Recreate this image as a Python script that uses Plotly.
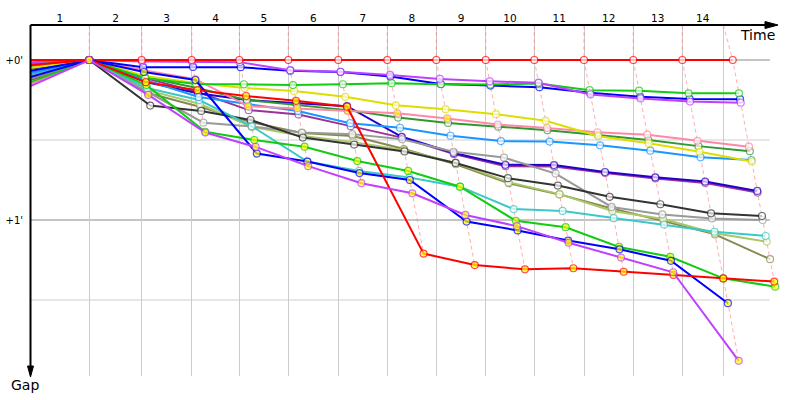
import plotly.graph_objects as go

# ---------------- data ----------------
# cumulative race time of the leader at each lap end (seconds), index 0 = start
leader_time = [0, 117.6, 222.4, 322.4, 417.6, 515.6, 615.6, 713.6, 811.6, 910.4,
               1007.6, 1107.0, 1205.6, 1303.6, 1404.4]
# vertical lap marks on the time axis
lap_grid = [117.6, 222.4, 322.4, 417.6, 515.6, 615.6, 713.6, 811.6, 910.4,
            1007.6, 1107.0, 1205.6, 1303.6, 1385.6]
lap_labels = ["1", "2", "3", "4", "5", "6", "7", "8", "9", "10", "11", "12", "13", "14"]
gap_ticks = [0, 60]
gap_tick_labels = ["+0'", "+1'"]
gap_minor = [30, 90]

# gap to leader (seconds); index 0 = start, then lap 1..14
gap_red = [0, 0, 0, 0, 0, 0, 0, 0, 0, 0, 0, 0, 0, 0, 0]
gap_violet = [0.8, 0, 0.6, 0.6, 0.8, 3.8, 4.4, 5.6, 7.1, 8.0, 8.5, 12.9, 14.4, 15.6, 16.0]
gap_blue = [4.1, 0, 2.7, 2.6, 2.7, 4.0, 4.5, 6.2, 9.0, 9.6, 10.2, 12.3, 13.8, 14.6, 14.7]
gap_green = [1.5, 0, 6.8, 9.0, 9.1, 9.4, 9.1, 8.7, 9.1, 9.2, 8.8, 11.3, 11.5, 12.5, 12.5]
gap_yellow = [3.0, 0, 6.0, 8.6, 10.5, 11.6, 13.8, 17.0, 18.5, 20.3, 22.8, 28.6, 31.2, 34.4, 38.1]
gap_pink = [9.0, 0, 3.8, 7.2, 17.3, 18.1, 19.2, 20.0, 21.9, 24.2, 25.5, 27.1, 28.0, 30.3, 32.5]
gap_forest = [2.3, 0, 6.4, 10.5, 15.0, 16.9, 18.8, 21.6, 23.6, 25.0, 26.3, 28.1, 30.0, 32.3, 34.2]
gap_dodger = [4.9, 0, 7.5, 13.9, 16.5, 19.1, 23.7, 25.4, 28.4, 30.4, 30.6, 32.0, 34.0, 36.5, 37.5]
gap_navy = [5.6, 0, 8.3, 12.5, 15.0, 16.2, 17.3, 28.8, 34.9, 39.3, 39.4, 42.0, 44.0, 45.6, 49.1]
gap_plum = [7.5, 0, 6.8, 12.0, 18.8, 20.4, 24.8, 29.1, 35.3, 39.8, 39.9, 42.4, 44.4, 46.1, 49.7]
gap_black = [3.4, 0, 17.1, 19.1, 22.5, 29.1, 31.7, 34.3, 38.6, 44.3, 47.1, 51.3, 54.1, 57.5, 58.5]
gap_gray = [6.8, 0, 12.0, 23.5, 24.9, 27.2, 27.8, 29.7, 34.4, 36.6, 42.6, 55.1, 57.9, 59.4, 60.0]
gap_cyan = [5.3, 0, 10.5, 15.0, 24.8, 38.1, 41.6, 44.1, 47.5, 55.9, 56.6, 59.3, 61.7, 64.4, 66.0]
gap_lightolive = [6.0, 0, 11.3, 16.5, 25.1, 28.5, 30.8, 33.8, 38.6, 45.8, 50.3, 56.6, 59.6, 65.0, 68.1]
gap_olive = [7.1, 0, 12.4, 17.6, 23.3, 27.4, 28.5, 33.4, 39.1, 46.2, 50.4, 55.7, 60.4, 65.4, 74.7]
gap_green2 = [8.3, 0, 9.4, 26.9, 30.0, 32.5, 37.9, 41.6, 47.5, 60.3, 62.7, 70.1, 73.8, 81.9, 85.0]
gap_blue2 = [6.4, 0, 4.5, 7.5, 35.1, 38.1, 42.4, 45.0, 60.6, 63.9, 67.7, 71.0, 75.3, 91.2, None]
gap_red2 = [1.9, 0, 8.3, 11.3, 13.5, 15.3, 17.5, 72.6, 76.9, 78.5, 78.1, 79.4, 80.6, 81.9, 83.1]
gap_purple2 = [9.8, 0, 13.1, 27.2, 32.6, 39.8, 46.2, 50.0, 58.1, 62.3, 68.5, 74.1, 79.6, 112.8, None]

W, Y = "white", "#ffff00"
pink_fill = [W, Y, Y, Y, Y, Y, Y, Y, Y, W, W, W, W, W, W]

# drawing order: (gaps, line colour, marker fill)
series = [
    (gap_plum, "#993399", W),
    (gap_navy, "#2200cc", W),
    (gap_olive, "#888850", W),
    (gap_lightolive, "#a8c868", W),
    (gap_gray, "#999999", W),
    (gap_black, "#333333", W),
    (gap_cyan, "#3cc8c8", W),
    (gap_dodger, "#1a96ff", W),
    (gap_forest, "#309830", W),
    (gap_pink, "#ff88a8", pink_fill),
    (gap_yellow, "#dddd00", W),
    (gap_blue, "#0000ff", W),
    (gap_green, "#11cc11", W),
    (gap_violet, "#c040ff", W),
    (gap_red, "#ff0000", W),
    (gap_green2, "#11cc11", Y),
    (gap_blue2, "#0000ff", Y),
    (gap_red2, "#ff0000", Y),
    (gap_purple2, "#c040ff", Y),
]

# ---------------- geometry ----------------
L, R, T, B = 30, 20, 25, 24
X_RANGE = [-1, 1499]
Y_TOP, Y_BOTTOM = -13.125, 118.5


def px(xp):
    return (xp - L) / (800 - L - R)


def py(yp):
    return (400 - B - yp) / (400 - T - B)


fig = go.Figure()

# lap connector dashed lines
for k in range(1, 15):
    gaps_k = sorted(s[0][k] for s in series if s[0][k] is not None)
    xs = [lap_grid[k - 1]] + [leader_time[k] + g for g in gaps_k]
    ys = [Y_TOP] + gaps_k
    fig.add_trace(go.Scatter(x=xs, y=ys, mode="lines", hoverinfo="skip",
                             line=dict(color="rgba(255,120,120,0.6)", width=1, dash="4px,3px"),
                             showlegend=False))

for gaps, col, fill in series:
    xs, ys, fills, sizes = [], [], [], []
    for k, g in enumerate(gaps):
        if g is None:
            continue
        xs.append(0 if k == 0 else leader_time[k] + g)
        ys.append(g)
        fills.append(fill[k] if isinstance(fill, list) else fill)
        sizes.append(0 if k == 0 else 7)
    fig.add_trace(go.Scatter(
        x=xs, y=ys, mode="lines+markers", cliponaxis=False, showlegend=False,
        line=dict(color=col, width=2),
        marker=dict(size=sizes, color=fills, line=dict(color=col, width=1.2)),
    ))

# horizontal grid lines (stop short of the arrow)
shapes = []
for v in gap_ticks:
    shapes.append(dict(type="line", xref="paper", yref="y", x0=0, x1=px(770), y0=v, y1=v,
                       line=dict(color="#8a8a8a", width=1), layer="below"))
for v in gap_minor:
    shapes.append(dict(type="line", xref="paper", yref="y", x0=0, x1=px(770), y0=v, y1=v,
                       line=dict(color="#cfcfcf", width=1), layer="below"))
# axis lines with arrow heads
shapes.append(dict(type="line", xref="paper", yref="paper", x0=px(30.5), x1=px(768), y0=py(25), y1=py(25),
                   line=dict(color="black", width=2)))
shapes.append(dict(type="path", xref="paper", yref="paper", fillcolor="black", line=dict(color="black", width=1),
                   path=f"M {px(778)} {py(25)} L {px(765)} {py(21.5)} L {px(765)} {py(28.5)} Z"))
shapes.append(dict(type="line", xref="paper", yref="paper", x0=px(30.5), x1=px(30.5), y0=py(25), y1=py(368),
                   line=dict(color="black", width=2)))
shapes.append(dict(type="path", xref="paper", yref="paper", fillcolor="black", line=dict(color="black", width=1),
                   path=f"M {px(30.5)} {py(377)} L {px(27.5)} {py(366)} L {px(33.5)} {py(366)} Z"))

mids = []
prev = 0
for g in lap_grid:
    mids.append((prev + g) / 2)
    prev = g

fig.update_layout(
    width=800, height=400,
    margin=dict(l=L, r=R, t=T, b=B, autoexpand=False),
    paper_bgcolor="white", plot_bgcolor="white",
    font=dict(family="DejaVu Sans", color="black"),
    shapes=shapes,
    xaxis=dict(range=X_RANGE, tickvals=lap_grid, showticklabels=False, showgrid=True, automargin=False,
               gridcolor="#cccccc", gridwidth=1, zeroline=False, showline=False, ticks=""),
    xaxis2=dict(range=X_RANGE, overlaying="x", side="top", tickvals=mids, ticktext=lap_labels,
                showgrid=False, zeroline=False, showline=False, ticks="", automargin=False,
                tickfont=dict(size=10.5, color="black")),
    yaxis=dict(range=[Y_BOTTOM, Y_TOP], tickvals=gap_ticks, ticktext=gap_tick_labels, automargin=False,
               showgrid=False, zeroline=False, showline=False, ticks="outside", ticklen=4,
               tickcolor="rgba(0,0,0,0)", tickfont=dict(size=10, color="black")),
    annotations=[
        dict(text="Time", xref="paper", yref="paper", x=px(777), y=py(35), xanchor="right",
             yanchor="middle", showarrow=False, font=dict(size=14, color="black")),
        dict(text="Gap", xref="paper", yref="paper", x=px(25), y=py(385), xanchor="center",
             yanchor="middle", showarrow=False, font=dict(size=14, color="black")),
    ],
)
# dummy trace to activate xaxis2
fig.add_trace(go.Scatter(x=[mids[0]], y=[Y_TOP], xaxis="x2", mode="markers",
                         marker=dict(size=0, opacity=0), showlegend=False, hoverinfo="skip"))

fig.write_html("out.html", config={"displayModeBar": False},
               post_script="document.body.style.margin='0';document.body.style.padding='0';")
